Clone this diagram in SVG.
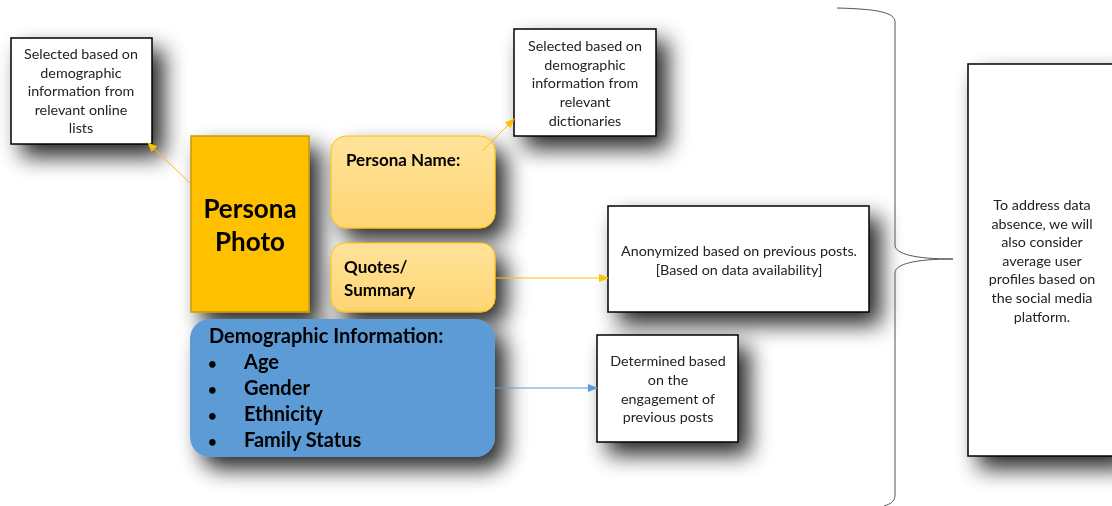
<svg xmlns="http://www.w3.org/2000/svg" width="1112" height="506" viewBox="0 0 1112 506">
<style>
.box{fill:#fff;stroke:#000;stroke-width:1.5}
.t{font-family:Lato,"Open Sans","Liberation Sans",sans-serif;font-size:14.3px;fill:#222;text-anchor:middle}
.b{font-family:Lato,"Open Sans","Liberation Sans",sans-serif;font-weight:bold;fill:#000}
.conn{fill:none;stroke-width:1}
</style>
<defs>
<filter id="sh" x="-40%" y="-40%" width="190%" height="190%">
<feGaussianBlur in="SourceAlpha" stdDeviation="11"/>
<feOffset dx="11" dy="12" result="o"/>
<feComponentTransfer><feFuncA type="linear" slope="0.85"/></feComponentTransfer>
<feMerge><feMergeNode/><feMergeNode in="SourceGraphic"/></feMerge>
</filter>
<linearGradient id="gy" x1="0" y1="0" x2="0" y2="1">
<stop offset="0" stop-color="#FFE39A"/><stop offset="1" stop-color="#FFD573"/>
</linearGradient>
<marker id="ay" markerWidth="10" markerHeight="8" refX="9" refY="4" orient="auto" markerUnits="userSpaceOnUse"><path d="M0,0 L10,4 L0,8 z" fill="#FFC000"/></marker>
<marker id="ab" markerWidth="10" markerHeight="8" refX="9" refY="4" orient="auto" markerUnits="userSpaceOnUse"><path d="M0,0 L10,4 L0,8 z" fill="#5B9BD5"/></marker>
</defs>
<rect width="1112" height="506" fill="#fff"/>

<g id="note-lists" filter="url(#sh)">
<rect class="box" x="11" y="38" width="141" height="106"/>
<text class="t"><tspan x="81" y="59">Selected based on</tspan><tspan x="81" y="78">demographic</tspan><tspan x="81" y="96">information from</tspan><tspan x="81" y="115">relevant online</tspan><tspan x="81" y="133">lists</tspan></text>
</g>

<g id="note-dict" filter="url(#sh)">
<rect class="box" x="514" y="29" width="142" height="107"/>
<text class="t"><tspan x="585" y="51">Selected based on</tspan><tspan x="585" y="70">demographic</tspan><tspan x="585" y="88">information from</tspan><tspan x="585" y="107">relevant</tspan><tspan x="585" y="126">dictionaries</tspan></text>
</g>

<g id="persona-photo" filter="url(#sh)">
<rect x="191" y="136" width="118" height="176" fill="#FFC000" stroke="#C99A00" stroke-width="1.5"/>
<text class="b" font-size="26" text-anchor="middle"><tspan x="250" y="218">Persona</tspan><tspan x="250" y="251">Photo</tspan></text>
</g>

<g id="persona-name" filter="url(#sh)">
<rect x="331" y="136" width="164" height="92" rx="15" fill="url(#gy)" stroke="#FFC000" stroke-width="1"/>
<text class="b" font-size="17" x="346" y="166">Persona Name:</text>
</g>

<g id="quotes" filter="url(#sh)">
<rect x="331" y="243" width="164" height="69" rx="14" fill="url(#gy)" stroke="#FFC000" stroke-width="1"/>
<text class="b" font-size="17"><tspan x="344" y="273">Quotes/</tspan><tspan x="344" y="296">Summary</tspan></text>
</g>

<g id="demographic" filter="url(#sh)">
<rect x="190" y="319" width="305" height="138" rx="20" fill="#5B9BD5"/>
<text class="b" font-size="20" x="209" y="343">Demographic Information:</text>
<g class="b" font-size="20">
<text x="208" y="369" font-size="15">•</text><text x="244" y="369">Age</text>
<text x="208" y="395" font-size="15">•</text><text x="244" y="395">Gender</text>
<text x="208" y="421" font-size="15">•</text><text x="244" y="421">Ethnicity</text>
<text x="208" y="447" font-size="15">•</text><text x="244" y="447">Family Status</text>
</g>
</g>

<g id="note-anon" filter="url(#sh)">
<rect class="box" x="608" y="206" width="261" height="106"/>
<text class="t"><tspan x="739" y="256">Anonymized based on previous posts.</tspan><tspan x="739" y="275">[Based on data availability]</tspan></text>
</g>

<g id="note-engage" filter="url(#sh)">
<rect class="box" x="597" y="335" width="141" height="107"/>
<text class="t"><tspan x="668" y="366">Determined based</tspan><tspan x="668" y="385">on the</tspan><tspan x="668" y="404">engagement of</tspan><tspan x="668" y="422">previous posts</tspan></text>
</g>

<g id="note-absence" filter="url(#sh)">
<rect class="box" x="968" y="64" width="150" height="392"/>
<text class="t"><tspan x="1042" y="210">To address data</tspan><tspan x="1042" y="229">absence, we will</tspan><tspan x="1042" y="247">also consider</tspan><tspan x="1042" y="266">average user</tspan><tspan x="1042" y="284">profiles based on</tspan><tspan x="1042" y="303">the social media</tspan><tspan x="1042" y="322">platform.</tspan></text>
</g>

<g id="connectors">
<line class="conn" x1="190" y1="183" x2="148" y2="143" stroke="#FFC000" marker-end="url(#ay)"/>
<line class="conn" x1="482" y1="151" x2="514" y2="119" stroke="#FFC000" marker-end="url(#ay)"/>
<line class="conn" x1="495" y1="278" x2="608" y2="278" stroke="#FFC000" marker-end="url(#ay)"/>
<line class="conn" x1="495" y1="388" x2="597" y2="388" stroke="#5B9BD5" marker-end="url(#ab)"/>
<path class="conn" stroke="#555" stroke-width="1.2" d="M837,8 C880,9 895,13 895,22 L895,245 C895,254 915,259 953,259 C915,259 895,264 895,273 L895,495 C895,502 890,504 884,506"/>
</g>
</svg>
